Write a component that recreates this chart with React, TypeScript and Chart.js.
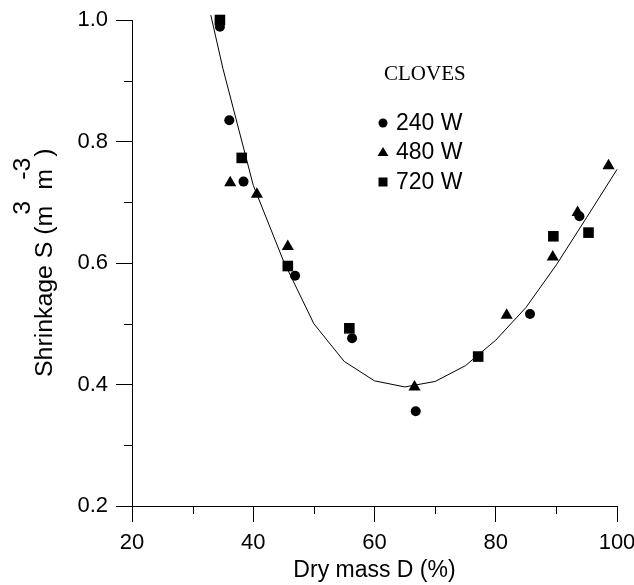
import React, { useEffect, useRef } from "react";
import { Chart, registerables } from "chart.js";

Chart.register(...registerables);

// ---- data ----
const w240X = [34.5, 36.05, 38.4, 46.9, 56.3, 66.8, 85.65, 93.8];
const w240Y = [0.989, 0.835, 0.734, 0.579, 0.476, 0.356, 0.516, 0.677];

const w480X = [36.2, 40.6, 45.7, 66.6, 81.8, 89.4, 93.5, 98.6];
const w480Y = [0.732, 0.713, 0.627, 0.396, 0.514, 0.61, 0.683, 0.76];

const w720X = [34.5, 38.1, 45.7, 55.85, 77.1, 89.5, 95.3];
const w720Y = [1.0, 0.773, 0.595, 0.4925, 0.446, 0.644, 0.65];

const curveX = [33, 35, 40, 45, 50, 55, 60, 65, 70, 75, 80, 85, 90, 95, 100];
const curveY = [1.008, 0.92, 0.728, 0.603, 0.5, 0.438, 0.406, 0.396, 0.405, 0.431, 0.473, 0.527, 0.597, 0.675, 0.754];

const seriesLabels = ["240 W", "480 W", "720 W"];
const legendTitle = "CLOVES";
const xTitle = "Dry mass D (%)";
const yTitleMain = "Shrinkage S (m";
const yTitleUnit2 = "m";
const yTitleSup1 = "3";
const yTitleSup2 = "-3";
const yTitleClose = ")";

const xMin = 20, xMax = 100, xStep = 10, xMajor = 20;
const yMin = 0.2, yMax = 1.0, yStep = 0.1;

const SANS = "'Liberation Sans', Arial, sans-serif";
const SERIF = "'Liberation Serif', 'Times New Roman', serif";

const zip = (xs: number[], ys: number[]) => xs.map((x, i) => ({ x, y: ys[i] }));

const isMajorX = (v: number) => Math.round(v) % xMajor === 0;
const isMajorY = (v: number) => Math.round(v * 10) % 2 === 0;

const minorTicksPlugin = {
  id: "minorTicks",
  afterDraw(chart: any) {
    const ctx = chart.ctx;
    const xs = chart.scales.x;
    const ys = chart.scales.y;
    const area = chart.chartArea;
    ctx.save();
    ctx.strokeStyle = "#000";
    ctx.lineWidth = 1;
    ctx.beginPath();
    xs.ticks.forEach((t: any) => {
      if (!isMajorX(t.value)) {
        const px = Math.round(xs.getPixelForValue(t.value)) + 0.5;
        ctx.moveTo(px, area.bottom);
        ctx.lineTo(px, area.bottom + 8);
      }
    });
    ys.ticks.forEach((t: any) => {
      if (!isMajorY(t.value)) {
        const py = Math.round(ys.getPixelForValue(t.value)) + 0.5;
        ctx.moveTo(area.left - 8, py);
        ctx.lineTo(area.left, py);
      }
    });
    ctx.stroke();
    ctx.restore();
  },
};

const yTitlePlugin = {
  id: "yTitle",
  afterDraw(chart: any) {
    const ctx = chart.ctx;
    const area = chart.chartArea;
    const sx = 1.08;
    ctx.save();
    ctx.fillStyle = "#000";
    ctx.font = `23px ${SANS}`;
    ctx.textBaseline = "alphabetic";
    ctx.textAlign = "left";
    const cy = (area.top + area.bottom) / 2;
    ctx.translate(52, cy);
    ctx.rotate(-Math.PI / 2);
    ctx.scale(sx, 1);
    const u0 = -114 / sx;
    ctx.fillText(yTitleMain, u0, 0);
    const w1 = ctx.measureText(yTitleMain).width;
    ctx.fillText(yTitleSup1, u0 + w1 - 9 / sx, -22);
    ctx.fillText(yTitleUnit2, u0 + w1 + 16 / sx, 0);
    ctx.fillText(yTitleSup2, u0 + w1 + 26 / sx, -22);
    ctx.fillText(yTitleClose, u0 + w1 + 49 / sx, 0);
    ctx.restore();
  },
};

const legendPlugin = {
  id: "customLegend",
  afterDraw(chart: any) {
    const ctx = chart.ctx;
    ctx.save();
    ctx.fillStyle = "#000";
    ctx.font = `21px ${SERIF}`;
    ctx.textBaseline = "alphabetic";
    ctx.textAlign = "left";
    ctx.fillText(legendTitle, 384, 80);
    ctx.font = `23px ${SANS}`;
    ctx.textBaseline = "middle";
    const rows = [123, 152, 182];
    chart.data.datasets.forEach((ds: any, i: number) => {
      if (i >= seriesLabels.length) return;
      const y = rows[i];
      const x = 383;
      ctx.beginPath();
      if (ds.pointStyle === "circle") {
        ctx.arc(x, y, 4.5, 0, Math.PI * 2);
      } else if (ds.pointStyle === "triangle") {
        ctx.moveTo(x, y - 5);
        ctx.lineTo(x + 5.5, y + 4);
        ctx.lineTo(x - 5.5, y + 4);
        ctx.closePath();
      } else {
        ctx.rect(x - 4.5, y - 4.5, 9, 9);
      }
      ctx.fill();
      ctx.fillText(ds.label, 396, y + 1);
    });
    ctx.restore();
  },
};

export default function App() {
  const ref = useRef<HTMLCanvasElement | null>(null);
  useEffect(() => {
    if (!ref.current) return;
    const chart = new Chart(ref.current, {
      type: "scatter",
      data: {
        datasets: [
          {
            label: seriesLabels[0],
            data: zip(w240X, w240Y),
            pointStyle: "circle",
            pointRadius: 5,
            backgroundColor: "#000",
            borderColor: "#000",
            borderWidth: 0,
            clip: false,
          } as any,
          {
            label: seriesLabels[1],
            data: zip(w480X, w480Y),
            pointStyle: "triangle",
            pointRadius: 7,
            backgroundColor: "#000",
            borderColor: "#000",
            borderWidth: 0,
            clip: false,
          },
          {
            label: seriesLabels[2],
            data: zip(w720X, w720Y),
            pointStyle: "rect",
            pointRadius: 7.5,
            backgroundColor: "#000",
            borderColor: "#000",
            borderWidth: 0,
            clip: false,
          },
          {
            label: "fit",
            data: zip(curveX, curveY),
            showLine: true,
            pointRadius: 0,
            borderColor: "#000",
            borderWidth: 1,
            tension: 0,
            clip: false,
          },
        ],
      },
      options: {
        responsive: false,
        animation: false,
        events: [],
        layout: { padding: { top: 20, right: 17, bottom: 0, left: 0 } },
        plugins: {
          legend: { display: false },
          tooltip: { enabled: false },
          title: { display: false },
        },
        scales: {
          x: {
            type: "linear",
            min: xMin,
            max: xMax,
            afterFit(scale: any) {
              scale.height = 79;
              scale.paddingLeft = 0;
              scale.paddingRight = 0;
            },
            ticks: {
              stepSize: xStep,
              autoSkip: false,
              maxRotation: 0,
              color: "#000",
              font: { family: SANS, size: 22 },
              padding: 8,
              callback: (v: any) => (isMajorX(Number(v)) ? String(v) : ""),
            },
            grid: {
              drawOnChartArea: false,
              tickLength: 16,
              tickWidth: 1,
              tickColor: (c: any) => (c.tick && isMajorX(c.tick.value) ? "#000" : "rgba(0,0,0,0)"),
            },
            border: { display: true, color: "#000", width: 1 },
            title: {
              display: true,
              text: xTitle,
              color: "#000",
              font: { family: SANS, size: 23 },
              padding: { top: 0, bottom: 1 },
            },
          },
          y: {
            type: "linear",
            min: yMin,
            max: yMax,
            afterFit(scale: any) {
              scale.width = 132;
              scale.paddingTop = 0;
              scale.paddingBottom = 0;
            },
            ticks: {
              stepSize: yStep,
              autoSkip: false,
              color: "#000",
              font: { family: SANS, size: 22 },
              padding: 8,
              callback: (v: any) => (isMajorY(Number(v)) ? Number(v).toFixed(1) : ""),
            },
            grid: {
              drawOnChartArea: false,
              tickLength: 16,
              tickWidth: 1,
              tickColor: (c: any) => (c.tick && isMajorY(c.tick.value) ? "#000" : "rgba(0,0,0,0)"),
            },
            border: { display: true, color: "#000", width: 1 },
          },
        },
      },
      plugins: [minorTicksPlugin, yTitlePlugin, legendPlugin],
    });
    return () => chart.destroy();
  }, []);

  return (
    <div style={{ position: "absolute", left: 0, top: 0, width: 634, height: 585, background: "#fff" }}>
      <canvas ref={ref} width={634} height={585} style={{ display: "block" }} />
    </div>
  );
}
